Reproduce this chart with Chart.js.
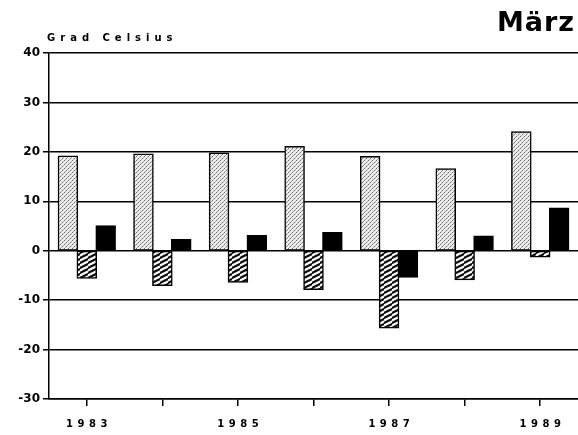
<!DOCTYPE html>
<html>
<head>
<meta charset="utf-8">
<script src="https://cdn.jsdelivr.net/npm/chart.js@4/dist/chart.umd.min.js"></script>
<style>
html,body{margin:0;padding:0;background:#fff;}
#wrap{width:578px;height:435px;}
</style>
</head>
<body>
<div id="wrap"><canvas id="c" width="578" height="435"></canvas></div>
<script>
// Data
const years = ['1983', '1984', '1985', '1986', '1987', '1988', '1989'];
const maxTemp = [19.1, 19.5, 19.7, 21.0, 19.0, 16.5, 24.0];
const minTemp = [-5.5, -7.0, -6.3, -7.8, -15.6, -5.8, -1.2];
const meanTemp = [5.0, 2.2, 3.0, 3.6, -5.3, 2.9, 8.6];
const yTicks = [-30, -20, -10, 0, 10, 20, 30, 40];
const titleText = 'März';
const unitText = 'Grad Celsius';

function stipple() {
  const c = document.createElement('canvas');
  c.width = 4; c.height = 4;
  const g = c.getContext('2d');
  g.fillStyle = '#ececec'; g.fillRect(0, 0, 4, 4);
  g.fillStyle = '#6a6a6a';
  g.fillRect(0, 0, 1, 1);
  g.fillRect(2, 2, 1, 1);
  g.fillStyle = '#a8a8a8';
  g.fillRect(3, 1, 1, 1);
  g.fillRect(1, 3, 1, 1);
  return g.createPattern(c, 'repeat');
}
function hatch() {
  const c = document.createElement('canvas');
  c.width = 8; c.height = 5;
  const g = c.getContext('2d');
  g.fillStyle = '#111'; g.fillRect(0, 0, 8, 5);
  g.strokeStyle = '#fff'; g.lineWidth = 1.2;
  g.beginPath();
  g.moveTo(-8, 5); g.lineTo(8, -3);
  g.moveTo(0, 5); g.lineTo(16, -3);
  g.moveTo(-8, 10); g.lineTo(8, 2);
  g.moveTo(0, 10); g.lineTo(16, 2);
  g.stroke();
  return g.createPattern(c, 'repeat');
}

const textPlugin = {
  id: 'texts',
  afterDraw(chart) {
    const ctx = chart.ctx;
    ctx.save();
    ctx.fillStyle = '#000';
    // Title
    ctx.font = 'bold 27px "DejaVu Sans"';
    ctx.letterSpacing = '1px';
    ctx.textAlign = 'left';
    ctx.textBaseline = 'alphabetic';
    const tw = ctx.measureText(titleText).width - 1;
    ctx.fillText(titleText, 574 - tw, 31);
    // Unit
    ctx.font = 'bold 10px "DejaVu Sans"';
    ctx.letterSpacing = '5px';
    ctx.fillText(unitText, 47, 41);
    // X labels every other year
    const xs = chart.scales.x;
    ctx.font = 'bold 10px "DejaVu Sans"';
    ctx.letterSpacing = '4.5px';
    ctx.textBaseline = 'middle';
    years.forEach((y, i) => {
      if (i % 2 !== 0) return;
      const w = ctx.measureText(y).width - 4.5;
      const px = xs.getPixelForValue(i);
      ctx.fillText(y, px - w / 2, 424);
    });
    ctx.restore();
  }
};

new Chart(document.getElementById('c'), {
  type: 'bar',
  data: {
    labels: years,
    datasets: [
      { label: 'Maximum', data: maxTemp, backgroundColor: stipple(), borderColor: '#000', borderWidth: 1.5, borderSkipped: false, inflateAmount: 0.8 },
      { label: 'Minimum', data: minTemp, backgroundColor: hatch(), borderColor: '#000', borderWidth: 1.5, borderSkipped: false, inflateAmount: 0.8 },
      { label: 'Mittel', data: meanTemp, backgroundColor: '#000', borderColor: '#000', borderWidth: 1, borderSkipped: false, inflateAmount: 0.8 }
    ]
  },
  options: {
    responsive: false,
    animation: false,
    devicePixelRatio: 1,
    layout: { padding: { top: 53, right: 0, bottom: 0, left: 0 } },
    plugins: { legend: { display: false }, tooltip: { enabled: false }, title: { display: false } },
    datasets: { bar: { categoryPercentage: 0.75, barPercentage: 1.0 } },
    scales: {
      x: {
        offset: true,
        grid: { display: true, offset: false, drawOnChartArea: false, drawTicks: true, tickLength: 7, color: '#000', lineWidth: 1.5 },
        border: { display: true, color: '#000', width: 1.5 },
        ticks: { display: true, color: 'rgba(0,0,0,0)', font: { size: 9 }, callback: () => '' },
        afterFit(s) { s.height = 36; }
      },
      y: {
        min: -30, max: 40,
        afterBuildTicks(s) { s.ticks = yTicks.map(v => ({ value: v })); },
        grid: { color: '#000', lineWidth: 1.5, tickLength: 6, drawTicks: true },
        border: { display: true, color: '#000', width: 1.5 },
        ticks: { color: '#000', padding: 3, font: { family: '"DejaVu Sans"', weight: 'bold', size: 12 } },
        afterFit(s) { s.width = 49; }
      }
    }
  },
  plugins: [textPlugin]
});
</script>
</body>
</html>
